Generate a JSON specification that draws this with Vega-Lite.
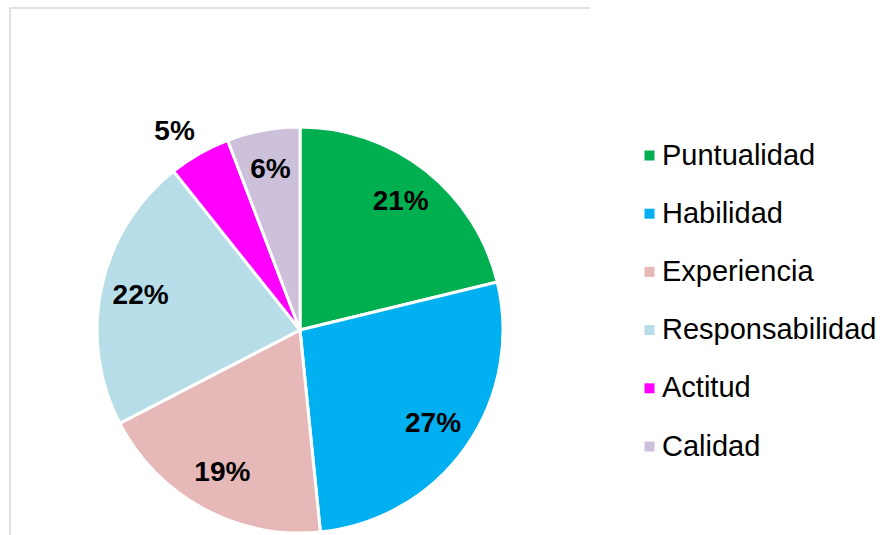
{
  "$schema": "https://vega.github.io/schema/vega-lite/v6.json",
  "autosize": {"type": "none"},
  "width": 580,
  "height": 644,
  "padding": {"left": 10, "top": 8, "right": 298, "bottom": 0},
  "background": "white",
  "config": {
    "view": {"stroke": "#d9d9d9", "strokeWidth": 1.5, "strokeDash": [580, 1224, 660, 1000]},
    "font": "Liberation Sans"
  },
  "data": {
    "values": [
      {"categoria": "Puntualidad", "valor": 0.212, "orden": 1},
      {"categoria": "Habilidad", "valor": 0.272, "orden": 2},
      {"categoria": "Experiencia", "valor": 0.190, "orden": 3},
      {"categoria": "Responsabilidad", "valor": 0.219, "orden": 4},
      {"categoria": "Actitud", "valor": 0.049, "orden": 5},
      {"categoria": "Calidad", "valor": 0.058, "orden": 6}
    ]
  },
  "layer": [
    {
      "mark": {"type": "point", "opacity": 0},
      "encoding": {
        "x": {"field": "orden", "type": "quantitative", "axis": null}
      }
    },
    {
      "mark": {"type": "arc", "outerRadius": 203, "stroke": "white", "strokeWidth": 3},
      "encoding": {
        "theta": {"field": "valor", "type": "quantitative", "stack": true},
        "order": {"field": "orden", "type": "quantitative"},
        "color": {
          "field": "categoria",
          "type": "nominal",
          "sort": null,
          "scale": {
            "domain": ["Puntualidad", "Habilidad", "Experiencia", "Responsabilidad", "Actitud", "Calidad"],
            "range": ["#00b050", "#00b0f0", "#e6b9b8", "#b7dee8", "#ff00ff", "#ccc0da"]
          },
          "legend": {
            "orient": "none",
            "legendX": 625,
            "legendY": 133,
            "title": null,
            "padding": 0,
            "symbolType": "square",
            "symbolSize": 100,
            "symbolStrokeWidth": 0,
            "labelFontSize": 29,
            "labelFont": "Liberation Sans",
            "labelColor": "black",
            "labelOffset": -2,
            "rowPadding": 28.2,
            "labelLimit": 400
          }
        }
      }
    },
    {
      "mark": {"type": "text", "radius": 163, "fontSize": 28, "fontWeight": "bold", "font": "Liberation Sans", "color": "black"},
      "encoding": {
        "theta": {"field": "valor", "type": "quantitative", "stack": true},
        "order": {"field": "orden", "type": "quantitative"},
        "text": {
          "condition": {"test": "datum.categoria === 'Actitud'", "value": ""},
          "field": "valor", "type": "quantitative", "format": ".0%"
        }
      }
    },
    {
      "mark": {"type": "text", "radius": 235, "dx": -9, "dy": 6, "fontSize": 28, "fontWeight": "bold", "font": "Liberation Sans", "color": "black"},
      "encoding": {
        "theta": {"field": "valor", "type": "quantitative", "stack": true},
        "order": {"field": "orden", "type": "quantitative"},
        "text": {
          "condition": {"test": "datum.categoria !== 'Actitud'", "value": ""},
          "field": "valor", "type": "quantitative", "format": ".0%"
        }
      }
    }
  ]
}
